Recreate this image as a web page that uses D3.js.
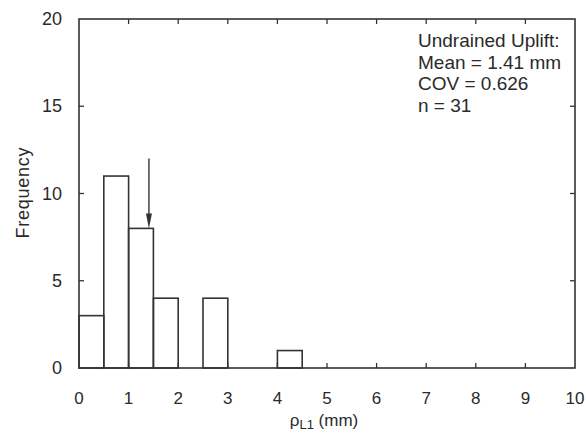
<!DOCTYPE html>
<html><head><meta charset="utf-8">
<script src="https://cdn.jsdelivr.net/npm/d3@7"></script>
<style>body{margin:0;background:#fff}svg{display:block}text{font-family:"Liberation Sans",Arial,sans-serif;fill:#2a2a2a}</style>
</head><body><svg id="c" width="586" height="434"></svg>
<script>
const binStarts = [0, 0.5, 1, 1.5, 2, 2.5, 3, 3.5, 4];
const counts    = [3, 11, 8, 4, 0, 4, 0, 0, 1];
const binWidth = 0.5;
const xTicks = [0,1,2,3,4,5,6,7,8,9,10];
const yTicks = [0,5,10,15,20];
const meanVal = 1.41;
const statsLines = ["Undrained Uplift:", "Mean = 1.41 mm", "COV = 0.626", "n = 31"];

const svg = d3.select("#c");
const L=79, R=575, T=19, B=368;
const x = d3.scaleLinear().domain([0,10]).range([L,R]);
const y = d3.scaleLinear().domain([0,20]).range([B,T]);
const col = "#333";

// bars
svg.append("g").selectAll("rect").data(binStarts.map((s,i)=>({s,c:counts[i]})).filter(d=>d.c>0))
  .enter().append("rect")
  .attr("x",d=>x(d.s)).attr("y",d=>y(d.c))
  .attr("width",d=>x(d.s+binWidth)-x(d.s)).attr("height",d=>y(0)-y(d.c))
  .attr("fill","none").attr("stroke",col).attr("stroke-width",1.6);

// frame
svg.append("rect").attr("x",L).attr("y",T).attr("width",R-L).attr("height",B-T)
  .attr("fill","none").attr("stroke",col).attr("stroke-width",1.6);

// inner ticks
const tl=5;
const g=svg.append("g").attr("stroke",col).attr("stroke-width",1.3);
xTicks.slice(1,-1).forEach(t=>{
  g.append("line").attr("x1",x(t)).attr("x2",x(t)).attr("y1",B).attr("y2",B-tl);
  g.append("line").attr("x1",x(t)).attr("x2",x(t)).attr("y1",T).attr("y2",T+tl);
});
yTicks.slice(1,-1).forEach(t=>{
  g.append("line").attr("y1",y(t)).attr("y2",y(t)).attr("x1",L).attr("x2",L+tl);
  g.append("line").attr("y1",y(t)).attr("y2",y(t)).attr("x1",R).attr("x2",R-tl);
});

// tick labels
svg.append("g").selectAll("text").data(xTicks).enter().append("text")
  .attr("x",d=>x(d)).attr("y",404).attr("text-anchor","middle").attr("font-size",17).text(d=>d);
svg.append("g").selectAll("text").data(yTicks).enter().append("text")
  .attr("x",62).attr("y",d=>y(d)+6).attr("text-anchor","end").attr("font-size",18).text(d=>d);

// axis titles
svg.append("text").attr("transform","translate(29,193) rotate(-90)").attr("text-anchor","middle")
  .attr("font-size",18).attr("textLength",91).text("Frequency");
const xt=svg.append("text").attr("x",324).attr("y",426).attr("text-anchor","middle").attr("font-size",17);
xt.append("tspan").text("ρ");
xt.append("tspan").attr("font-size",13).attr("dy",3).text("L1");
xt.append("tspan").attr("dy",-3).text(" (mm)");

// mean arrow
const ax=x(meanVal);
svg.append("line").attr("x1",ax).attr("x2",ax).attr("y1",y(12)).attr("y2",y(8)-10)
  .attr("stroke",col).attr("stroke-width",1.4);
svg.append("path").attr("d",`M${ax-3},${y(8)-15} L${ax+3},${y(8)-15} L${ax},${y(8)} Z`).attr("fill",col);

// stats text
svg.append("g").selectAll("text").data(statsLines).enter().append("text")
  .attr("x",418).attr("y",(d,i)=>47+i*21.7).attr("font-size",19).text(d=>d);
</script></body></html>
